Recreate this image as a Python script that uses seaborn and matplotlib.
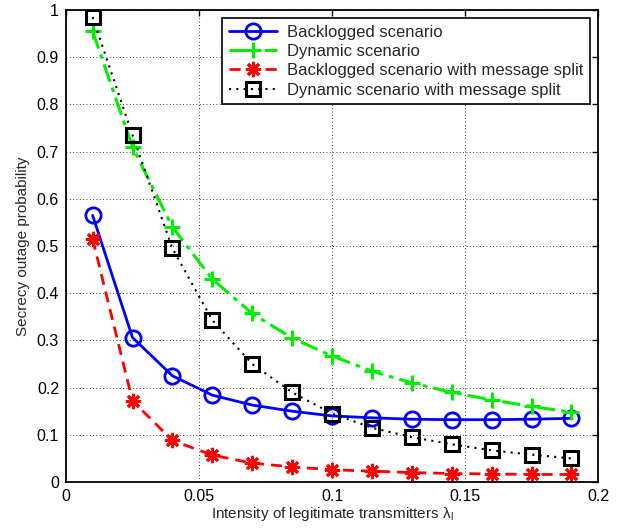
import matplotlib
matplotlib.use("Agg")
import matplotlib.pyplot as plt
import seaborn as sns
import numpy as np
import pandas as pd
from matplotlib.ticker import FormatStrFormatter, MultipleLocator

x = [0.01, 0.025, 0.04, 0.055, 0.07, 0.085, 0.1, 0.115, 0.13, 0.145, 0.16, 0.175, 0.19]
backlogged = [0.565, 0.306, 0.225, 0.184, 0.163, 0.150, 0.140, 0.136, 0.133, 0.132, 0.132, 0.133, 0.135]
dynamic = [0.955, 0.71, 0.54, 0.43, 0.357, 0.305, 0.267, 0.235, 0.21, 0.19, 0.174, 0.16, 0.148]
backlogged_split = [0.515, 0.172, 0.088, 0.057, 0.040, 0.032, 0.026, 0.023, 0.020, 0.018, 0.017, 0.016, 0.016]
dynamic_split = [0.985, 0.735, 0.495, 0.343, 0.25, 0.19, 0.145, 0.115, 0.095, 0.08, 0.067, 0.058, 0.05]
labels = ["Backlogged scenario", "Dynamic scenario",
          "Backlogged scenario with message split", "Dynamic scenario with message split"]

sns.set_style("white")
plt.rcParams['font.family'] = ['Liberation Sans', 'DejaVu Sans']
plt.rcParams['mathtext.fontset'] = 'custom'
plt.rcParams['mathtext.rm'] = 'Liberation Sans'
plt.rcParams['mathtext.it'] = 'Liberation Sans'

fig = plt.figure(figsize=(6.2, 5.31), dpi=100)
ax = fig.add_axes([66/620, 1-482/531, (598-66)/620, (482-10)/531])

styles = [
    dict(color="#0000ff", ls="-", marker="o", ms=11, mfc="none", mew=2, lw=2),
    dict(color="#00ee00", ls=(0, (6, 2, 1.5, 2)), marker="+", ms=12, mew=2.2, lw=2.2),
    dict(color="#ff0000", ls=(0, (4, 2.5)), marker=(8, 2, 0), ms=11, mew=2, lw=2),
    dict(color="black", ls=(0, (1, 2.5)), marker="s", ms=10, mfc="none", mew=2.2, lw=1.5),
]
series = [backlogged, dynamic, backlogged_split, dynamic_split]
for yv, lab, st in zip(series, labels, styles):
    df = pd.DataFrame({"x": x, "y": yv})
    sns.lineplot(data=df, x="x", y="y", ax=ax, label=lab, color=st["color"],
                 linestyle=st["ls"], marker=st["marker"], markersize=st["ms"],
                 markerfacecolor=st.get("mfc", st["color"]), markeredgecolor=st["color"],
                 markeredgewidth=st["mew"], linewidth=st["lw"])

ax.set_xlim(0, 0.2)
ax.set_ylim(0, 1)
ax.xaxis.set_major_locator(MultipleLocator(0.05))
ax.yaxis.set_major_locator(MultipleLocator(0.1))
ax.xaxis.set_major_formatter(FormatStrFormatter('%g'))
ax.yaxis.set_major_formatter(FormatStrFormatter('%g'))
ax.grid(True, color="black", linestyle=(0, (1, 3)), linewidth=0.6)
ax.tick_params(direction="in", length=4, width=1, top=True, right=True, labelsize=11.5, colors="black", pad=5)
for s in ax.spines.values():
    s.set_visible(True)
    s.set_color("black")
    s.set_linewidth(1.3)
ax.set_xlabel("Intensity of legitimate transmitters \u03bb$_\\mathrm{l}$", fontsize=11, labelpad=1)
ax.set_ylabel("Secrecy outage probability", fontsize=11, labelpad=5)

leg = ax.legend(loc="upper right", fontsize=12, frameon=True, fancybox=False,
                edgecolor="black", framealpha=1, borderaxespad=0.5, handlelength=2.9,
                labelspacing=0.25, borderpad=0.4, handletextpad=0.55)
leg.get_frame().set_linewidth(1.2)

fig.savefig("out.png", dpi=100)
